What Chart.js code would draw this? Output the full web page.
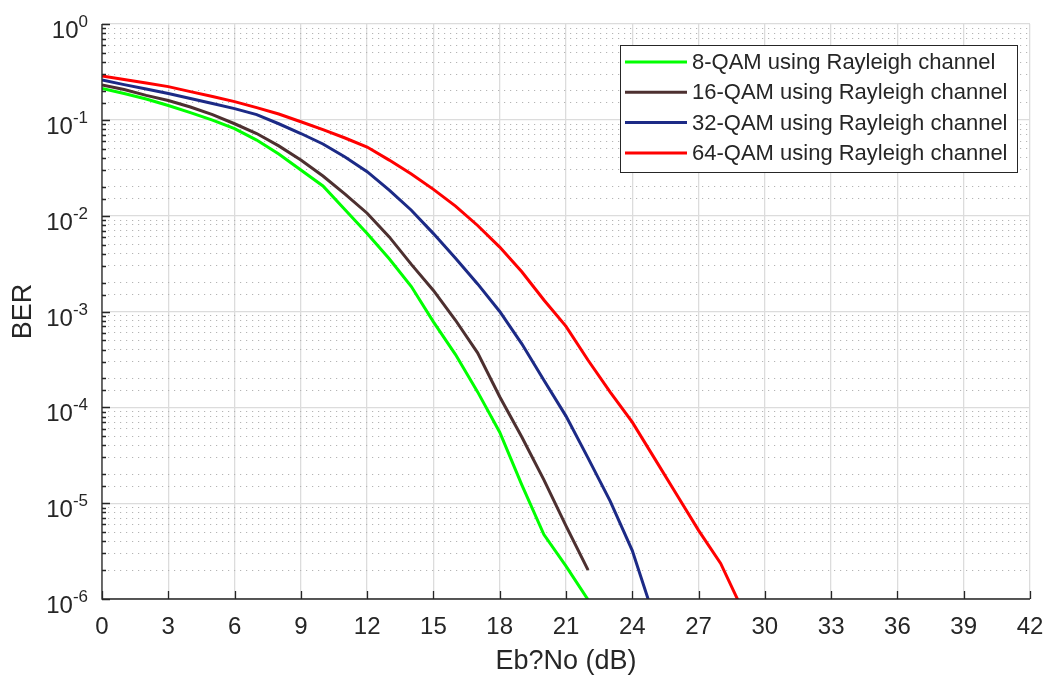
<!DOCTYPE html>
<html>
<head>
<meta charset="utf-8">
<title>BER vs Eb/No</title>
<script src="https://cdn.jsdelivr.net/npm/chart.js@4.4.1/dist/chart.umd.min.js"></script>
<style>
  html, body { margin: 0; padding: 0; background: #fff; }
  #wrap { position: relative; width: 1047px; height: 680px; }
</style>
</head>
<body>
<div id="wrap"><canvas id="berChart" width="1047" height="680"></canvas></div>
<script>
// =============================================
// Data (Eb/No in dB, BER)
// =============================================
const EBNO = [0, 1, 2, 3, 4, 5, 6, 7, 8, 9, 10, 11, 12, 13, 14, 15, 16, 17, 18, 19, 20, 21, 22, 23, 24, 25, 26, 27, 28, 29];

const BER_8QAM = [0.213, 0.188, 0.165, 0.141, 0.119, 0.0995, 0.081, 0.0615, 0.044, 0.030,
  0.0204, 0.0115, 0.0065, 0.00355, 0.00182, 0.00078, 0.000355, 0.000145, 0.000055, 0.0000155,
  0.0000047, 0.0000022, 0.00000098];
const BER_16QAM = [0.231, 0.207, 0.18, 0.159, 0.136, 0.1135, 0.091, 0.072, 0.0535, 0.038,
  0.0259, 0.0168, 0.0106, 0.006, 0.0031, 0.00166, 0.00081, 0.00037, 0.000129, 0.000049,
  0.0000175, 0.0000058, 0.000002];
const BER_32QAM = [0.26, 0.233, 0.21, 0.188, 0.167, 0.148, 0.131, 0.1135, 0.091, 0.072,
  0.056, 0.041, 0.0288, 0.0185, 0.0114, 0.0065, 0.0036, 0.00194, 0.001, 0.00046,
  0.000192, 0.000081, 0.0000295, 0.0000105, 0.0000032, 0.00000063];
const BER_64QAM = [0.286, 0.264, 0.242, 0.222, 0.197, 0.175, 0.155, 0.134, 0.115, 0.0955,
  0.079, 0.0646, 0.052, 0.038, 0.0272, 0.0188, 0.0126, 0.0079, 0.0047, 0.0026,
  0.00132, 0.0007, 0.00031, 0.000144, 0.00007, 0.0000295, 0.0000124, 0.0000052, 0.00000235, 0.00000076];

const SERIES_LABELS = [
  '8-QAM using Rayleigh channel',
  '16-QAM using Rayleigh channel',
  '32-QAM using Rayleigh channel',
  '64-QAM using Rayleigh channel',
];
const SERIES_VALUES = [BER_8QAM, BER_16QAM, BER_32QAM, BER_64QAM];
const SERIES_COLORS = ['#00ff00', '#4d3030', '#1c2a86', '#ff0000'];

const Y_EXPONENTS = [0, -1, -2, -3, -4, -5, -6];

const AXIS_COLOR = '#262626';
const FONT = '"Liberation Sans", Arial, Helvetica, sans-serif';

function isDecade(v) {
  const l = Math.log10(v);
  return Math.abs(l - Math.round(l)) < 1e-6;
}

// =============================================
// Plugins: inward ticks, 10^n labels, legend
// =============================================
const matlabAxes = {
  id: 'matlabAxes',
  afterDatasetsDraw(chart) {
    const { ctx, chartArea, scales } = chart;
    const x = scales.x, y = scales.y;
    ctx.save();
    ctx.strokeStyle = AXIS_COLOR;
    ctx.lineWidth = 1.3;
    ctx.beginPath();
    // axis lines
    ctx.moveTo(chartArea.left, chartArea.top);
    ctx.lineTo(chartArea.left, chartArea.bottom);
    ctx.lineTo(chartArea.right, chartArea.bottom);
    // left ticks, pointing inward
    y.ticks.forEach(t => {
      const py = Math.round(y.getPixelForValue(t.value)) + 0.5;
      const len = isDecade(t.value) ? 8 : 4;
      ctx.moveTo(chartArea.left, py);
      ctx.lineTo(chartArea.left + len, py);
    });
    // bottom ticks
    x.ticks.forEach(t => {
      const px = Math.round(x.getPixelForValue(t.value)) + 0.5;
      ctx.moveTo(px, chartArea.bottom);
      ctx.lineTo(px, chartArea.bottom - 8);
    });
    ctx.stroke();

    // y labels 10^n
    ctx.fillStyle = AXIS_COLOR;
    ctx.textBaseline = 'alphabetic';
    ctx.textAlign = 'left';
    const right = chartArea.left - 14;
    Y_EXPONENTS.forEach(e => {
      const py = y.getPixelForValue(Math.pow(10, e));
      const expText = String(e);
      ctx.font = `17px ${FONT}`;
      const ew = ctx.measureText(expText).width;
      ctx.font = `24px ${FONT}`;
      const bw = ctx.measureText('10').width;
      ctx.fillText('10', right - ew - bw, py + 14);
      ctx.font = `17px ${FONT}`;
      ctx.fillText(expText, right - ew, py + 3);
    });
    ctx.restore();
  },
  afterDraw(chart) {
    // legend box, top right inside the axes
    const { ctx } = chart;
    const box = { x: 620, y: 45, w: 397, h: 127 };
    ctx.save();
    ctx.fillStyle = '#fff';
    ctx.fillRect(box.x, box.y, box.w, box.h);
    ctx.strokeStyle = AXIS_COLOR;
    ctx.lineWidth = 1;
    ctx.strokeRect(box.x + 0.5, box.y + 0.5, box.w, box.h);
    ctx.font = `22px ${FONT}`;
    ctx.textBaseline = 'middle';
    ctx.textAlign = 'left';
    chart.data.datasets.forEach((ds, i) => {
      const cy = box.y + 17 + i * 30.3;
      ctx.strokeStyle = ds.borderColor;
      ctx.lineWidth = 3;
      ctx.beginPath();
      ctx.moveTo(box.x + 5, cy);
      ctx.lineTo(box.x + 67, cy);
      ctx.stroke();
      ctx.fillStyle = AXIS_COLOR;
      ctx.fillText(ds.label, box.x + 72, cy + 1);
    });
    ctx.restore();
  }
};

// =============================================
// Chart
// =============================================
const datasets = SERIES_VALUES.map((vals, i) => ({
  label: SERIES_LABELS[i],
  data: vals.map((v, j) => ({ x: EBNO[j], y: v })),
  borderColor: SERIES_COLORS[i],
  backgroundColor: SERIES_COLORS[i],
  borderWidth: 3,
  pointRadius: 0,
  tension: 0,
  fill: false,
  clip: 0,
}));

new Chart(document.getElementById('berChart'), {
  type: 'line',
  data: { datasets },
  plugins: [matlabAxes],
  options: {
    responsive: false,
    animation: false,
    layout: { padding: { top: 24, right: 17, left: 0, bottom: 0 } },
    plugins: {
      legend: { display: false },
      tooltip: { enabled: false },
    },
    scales: {
      x: {
        type: 'linear',
        min: 0,
        max: 42,
        ticks: {
          stepSize: 3,
          color: AXIS_COLOR,
          font: { family: FONT, size: 24 },
          padding: 14,
          maxRotation: 0,
        },
        grid: { color: '#dcdcdc', lineWidth: 1.3, drawTicks: false },
        border: { display: false },
        title: {
          display: true,
          text: 'Eb?No (dB)',
          color: AXIS_COLOR,
          font: { family: FONT, size: 27 },
          padding: { top: 0, bottom: 2 },
        },
        afterFit: s => {
          s.height = 81;
          s.paddingLeft = 0;
          s.paddingRight = 0;
        },
      },
      y: {
        type: 'logarithmic',
        min: 1e-6,
        max: 1,
        ticks: { display: false },
        grid: {
          color: ctx => (ctx.tick && isDecade(ctx.tick.value)) ? '#dcdcdc' : '#b4b4b4',
          lineWidth: ctx => (ctx.tick && isDecade(ctx.tick.value)) ? 1.3 : 1,
          drawTicks: false,
        },
        border: {
          display: false,
          dash: ctx => (ctx.type === 'tick' && !isDecade(ctx.tick.value)) ? [1.2, 4.8] : [],
        },
        title: {
          display: true,
          text: 'BER',
          color: AXIS_COLOR,
          font: { family: FONT, size: 27 },
          padding: { top: 7, bottom: 0 },
        },
        afterFit: s => { s.width = 102; },
      },
    },
  },
});
</script>
</body>
</html>
